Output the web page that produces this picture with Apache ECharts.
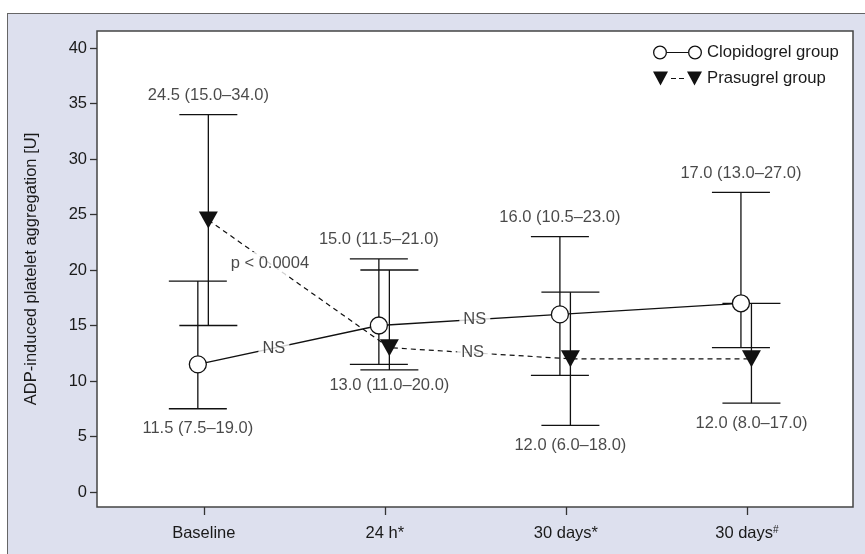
<!DOCTYPE html>
<html>
<head>
<meta charset="utf-8">
<script src="https://cdn.jsdelivr.net/npm/echarts@6/dist/echarts.min.js"></script>
<style>
html,body{margin:0;padding:0;background:#fff;overflow:hidden;}
#frame{position:absolute;left:7px;top:13px;width:900px;height:600px;border:1.5px solid #666;background:#dde0ee;}
#chart{position:absolute;left:0;top:0;width:865px;height:554px;}
</style>
</head>
<body>
<div id="frame"></div>
<div id="chart"></div>
<script>
// ---- data ----
const categories = ['Baseline', '24 h*', '30 days*', '30 days#'];
const clopMedian = [11.5, 15.0, 16.0, 17.0];
const clopLow    = [7.5, 11.5, 10.5, 13.0];
const clopHigh   = [19.0, 21.0, 23.0, 27.0];
const prasMedian = [24.5, 13.0, 12.0, 12.0];
const prasLow    = [15.0, 11.0, 6.0, 8.0];
const prasHigh   = [34.0, 20.0, 18.0, 17.0];
const yTicks = [0, 5, 10, 15, 20, 25, 30, 35, 40];
const xTicks = [0, 1, 2, 3];
// which group's summary label sits above / below at each time point
const topGroup    = ['pras', 'clop', 'clop', 'clop'];
const bottomGroup = ['clop', 'pras', 'pras', 'pras'];
// significance annotations: text, group, segment index, fraction along segment
const annText  = ['p < 0.0004', 'NS', 'NS', 'NS'];
const annGroup = ['pras', 'clop', 'clop', 'pras'];
const annSeg   = [0, 0, 1, 1];
const annFrac  = [0.34, 0.42, 0.53, 0.46];

// ---- layout helpers ----
const OFF = {clop: -0.033, pras: 0.025};
const G = {
  clop: {m: clopMedian, lo: clopLow, hi: clopHigh},
  pras: {m: prasMedian, lo: prasLow, hi: prasHigh}
};
const fmt = v => v.toFixed(1);
const summary = (g, i) => fmt(G[g].m[i]) + ' (' + fmt(G[g].lo[i]) + '–' + fmt(G[g].hi[i]) + ')';

const FONT = 'Liberation Sans';
const FS = 16.5;
const TXT = {fontFamily: FONT, fontSize: FS, color: '#1a1a1a'};

function linePts(g) { return G[g].m.map((v, i) => [i + OFF[g], v]); }
function barPts(g) { return G[g].m.map((v, i) => [i + OFF[g], G[g].lo[i], G[g].hi[i]]); }

const summaryData = [];
categories.forEach((c, i) => {
  const t = topGroup[i], b = bottomGroup[i];
  summaryData.push({value: [i + OFF[t], G[t].hi[i]], label: {position: 'top', distance: 10, formatter: summary(t, i)}});
  summaryData.push({value: [i + OFF[b], G[b].lo[i]], label: {position: 'bottom', distance: i === 1 ? 7 : 11, formatter: summary(b, i)}});
});

const annData = annText.map((t, k) => {
  const g = annGroup[k], s = annSeg[k], f = annFrac[k];
  const x0 = s + OFF[g], x1 = s + 1 + OFF[g];
  const y0 = G[g].m[s], y1 = G[g].m[s + 1];
  return {value: [x0 + (x1 - x0) * f, y0 + (y1 - y0) * f], label: {formatter: t}};
});

const CAP = 29;
function renderBar(params, api) {
  const x = api.value(0), lo = api.value(1), hi = api.value(2);
  const a = api.coord([x, hi]), b = api.coord([x, lo]);
  const st = {stroke: '#111', lineWidth: 1.3, fill: null};
  return {type: 'group', children: [
    {type: 'line', shape: {x1: a[0], y1: a[1], x2: b[0], y2: b[1]}, style: st},
    {type: 'line', shape: {x1: a[0] - CAP, y1: a[1], x2: a[0] + CAP, y2: a[1]}, style: st},
    {type: 'line', shape: {x1: b[0] - CAP, y1: b[1], x2: b[0] + CAP, y2: b[1]}, style: st}
  ]};
}

const clopIcon = 'path://M0,7 A7,7 0 1,1 14,7 A7,7 0 1,1 0,7 Z M1.3,7 A5.7,5.7 0 1,0 12.7,7 A5.7,5.7 0 1,0 1.3,7 Z ' +
  'M14,6.4 L35,6.4 L35,7.6 L14,7.6 Z ' +
  'M35,7 A7,7 0 1,1 49,7 A7,7 0 1,1 35,7 Z M36.3,7 A5.7,5.7 0 1,0 47.7,7 A5.7,5.7 0 1,0 36.3,7 Z';
const prasIcon = 'path://M0,0 L15,0 L7.5,14 Z M18,6.4 L23,6.4 L23,7.6 L18,7.6 Z M26,6.4 L31,6.4 L31,7.6 L26,7.6 Z M34,0 L49,0 L41.5,14 Z';

const chart = echarts.init(document.getElementById('chart'));
chart.setOption({
  animation: false,
  backgroundColor: 'transparent',
  grid: {left: 97, top: 31, right: 12, bottom: 47, show: true, backgroundColor: '#fff',
         borderColor: '#444', borderWidth: 1.5, containLabel: false, outerBoundsMode: 'none'},
  legend: {
    orient: 'vertical', left: 653, top: 44, padding: 0, itemWidth: 49, itemHeight: 14, itemGap: 9,
    textStyle: {fontFamily: FONT, fontSize: 16.7, color: '#1a1a1a', lineHeight: 16},
    data: [
      {name: 'Clopidogrel group', icon: clopIcon, itemStyle: {color: '#111', borderWidth: 0}},
      {name: 'Prasugrel group', icon: prasIcon, itemStyle: {color: '#111', borderWidth: 0}}
    ],
    selectedMode: false
  },
  xAxis: {
    type: 'value', min: -0.59, max: 3.586,
    axisLine: {show: false, onZero: false},
    splitLine: {show: false},
    axisTick: {show: true, length: 8, customValues: xTicks, lineStyle: {color: '#333', width: 1.3}},
    axisLabel: {customValues: xTicks, margin: 18, ...TXT,
      formatter: v => {
        const c = categories[Math.round(v)];
        return c.endsWith('#') ? c.slice(0, -1) + '{sup|#}' : c;
      },
      rich: {sup: {fontFamily: FONT, fontSize: 10, color: '#1a1a1a', padding: [0, 0, 7, 0]}}
    }
  },
  yAxis: {
    type: 'value', min: -1.35, max: 41.53,
    axisLine: {show: false, onZero: false},
    splitLine: {show: false},
    axisTick: {show: true, length: 7, customValues: yTicks, lineStyle: {color: '#333', width: 1.3}},
    axisLabel: {customValues: yTicks, margin: 10, ...TXT},
    name: 'ADP-induced platelet aggregation [U]',
    nameLocation: 'middle', nameGap: 57,
    nameTextStyle: {fontFamily: FONT, fontSize: 16.5, color: '#1a1a1a'}
  },
  series: [
    {type: 'custom', name: 'clopBars', renderItem: renderBar, data: barPts('clop'), z: 1, silent: true,
     encode: {x: 0, y: [1, 2]}},
    {type: 'custom', name: 'prasBars', renderItem: renderBar, data: barPts('pras'), z: 1, silent: true,
     encode: {x: 0, y: [1, 2]}},
    {type: 'line', name: 'Prasugrel group', data: linePts('pras'), z: 3, silent: true,
     lineStyle: {color: '#111', width: 1.2, type: [5, 4]},
     symbol: 'triangle', symbolRotate: 180, symbolSize: [19, 17], showAllSymbol: true,
     itemStyle: {color: '#111', borderWidth: 0}},
    {type: 'line', name: 'Clopidogrel group', data: linePts('clop'), z: 3, silent: true,
     lineStyle: {color: '#111', width: 1.3},
     symbol: 'circle', symbolSize: 17, showAllSymbol: true,
     itemStyle: {color: '#fff', borderColor: '#111', borderWidth: 1.3}},
    {type: 'scatter', name: 'summary', data: summaryData, z: 5, silent: true,
     symbolSize: 1, itemStyle: {color: 'rgba(0,0,0,0)'},
     label: {show: true, ...TXT}},
    {type: 'scatter', name: 'ann', data: annData, z: 4, silent: true,
     symbolSize: 1, itemStyle: {color: 'rgba(0,0,0,0)'},
     label: {show: true, position: 'inside', ...TXT, backgroundColor: '#fff', padding: [3, 4]}}
  ]
});
</script>
</body>
</html>
